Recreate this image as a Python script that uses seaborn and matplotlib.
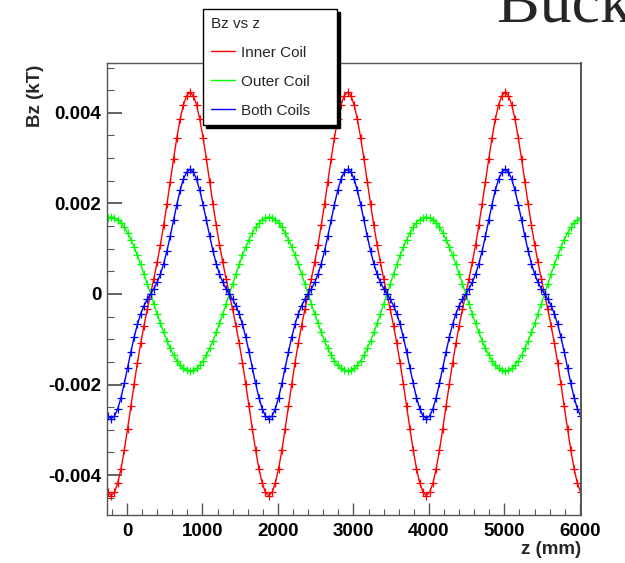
import numpy as np
import pandas as pd
import matplotlib
matplotlib.use("Agg")
import matplotlib.pyplot as plt
import seaborn as sns
from matplotlib.ticker import MultipleLocator, FuncFormatter
from matplotlib.lines import Line2D

# ---------------- data ----------------
Z_FIRST, Z_LAST, N_SAMPLES = -253.5, 6010.5, 145
z_mm = np.linspace(Z_FIRST, Z_LAST, N_SAMPLES)

inner_coil = [
    -0.00438,
    -0.00445, -0.00438, -0.004177, -0.003857, -0.003447, -0.002978, -0.002482, -0.001989, -0.00152, -0.001089, -0.000698, -0.00034, 0.0,
    0.00034, 0.000698, 0.001089, 0.00152, 0.001989, 0.002482, 0.002978, 0.003447, 0.003857, 0.004177, 0.00438, 0.00445,
    0.00438, 0.004177, 0.003857, 0.003447, 0.002978, 0.002482, 0.001989, 0.00152, 0.001089, 0.000698, 0.00034, 0.0,
    -0.00034, -0.000698, -0.001089, -0.00152, -0.001989, -0.002482, -0.002978, -0.003447, -0.003857, -0.004177, -0.00438, -0.00445,
    -0.00438, -0.004177, -0.003857, -0.003447, -0.002978, -0.002482, -0.001989, -0.00152, -0.001089, -0.000698, -0.00034, 0.0,
    0.00034, 0.000698, 0.001089, 0.00152, 0.001989, 0.002482, 0.002978, 0.003447, 0.003857, 0.004177, 0.00438, 0.00445,
    0.00438, 0.004177, 0.003857, 0.003447, 0.002978, 0.002482, 0.001989, 0.00152, 0.001089, 0.000698, 0.00034, 0.0,
    -0.00034, -0.000698, -0.001089, -0.00152, -0.001989, -0.002482, -0.002978, -0.003447, -0.003857, -0.004177, -0.00438, -0.00445,
    -0.00438, -0.004177, -0.003857, -0.003447, -0.002978, -0.002482, -0.001989, -0.00152, -0.001089, -0.000698, -0.00034, 0.0,
    0.00034, 0.000698, 0.001089, 0.00152, 0.001989, 0.002482, 0.002978, 0.003447, 0.003857, 0.004177, 0.00438, 0.00445,
    0.00438, 0.004177, 0.003857, 0.003447, 0.002978, 0.002482, 0.001989, 0.00152, 0.001089, 0.000698, 0.00034, 0.0,
    -0.00034, -0.000698, -0.001089, -0.00152, -0.001989, -0.002482, -0.002978, -0.003447, -0.003857, -0.004177, -0.00438,
]

outer_coil = [
    0.001685,
    0.0017, 0.001685, 0.001642, 0.001571, 0.001472, 0.001349, 0.001202, 0.001035, 0.00085, 0.000651, 0.00044, 0.000222, 0.0,
    -0.000222, -0.00044, -0.000651, -0.00085, -0.001035, -0.001202, -0.001349, -0.001472, -0.001571, -0.001642, -0.001685, -0.0017,
    -0.001685, -0.001642, -0.001571, -0.001472, -0.001349, -0.001202, -0.001035, -0.00085, -0.000651, -0.00044, -0.000222, 0.0,
    0.000222, 0.00044, 0.000651, 0.00085, 0.001035, 0.001202, 0.001349, 0.001472, 0.001571, 0.001642, 0.001685, 0.0017,
    0.001685, 0.001642, 0.001571, 0.001472, 0.001349, 0.001202, 0.001035, 0.00085, 0.000651, 0.00044, 0.000222, 0.0,
    -0.000222, -0.00044, -0.000651, -0.00085, -0.001035, -0.001202, -0.001349, -0.001472, -0.001571, -0.001642, -0.001685, -0.0017,
    -0.001685, -0.001642, -0.001571, -0.001472, -0.001349, -0.001202, -0.001035, -0.00085, -0.000651, -0.00044, -0.000222, 0.0,
    0.000222, 0.00044, 0.000651, 0.00085, 0.001035, 0.001202, 0.001349, 0.001472, 0.001571, 0.001642, 0.001685, 0.0017,
    0.001685, 0.001642, 0.001571, 0.001472, 0.001349, 0.001202, 0.001035, 0.00085, 0.000651, 0.00044, 0.000222, 0.0,
    -0.000222, -0.00044, -0.000651, -0.00085, -0.001035, -0.001202, -0.001349, -0.001472, -0.001571, -0.001642, -0.001685, -0.0017,
    -0.001685, -0.001642, -0.001571, -0.001472, -0.001349, -0.001202, -0.001035, -0.00085, -0.000651, -0.00044, -0.000222, 0.0,
    0.000222, 0.00044, 0.000651, 0.00085, 0.001035, 0.001202, 0.001349, 0.001472, 0.001571, 0.001642, 0.001685,
]

both_coils = [
    -0.002695,
    -0.00275, -0.002695, -0.002535, -0.002286, -0.001975, -0.001629, -0.00128, -0.000954, -0.00067, -0.000438, -0.000258, -0.000118, 0.0,
    0.000118, 0.000258, 0.000438, 0.00067, 0.000954, 0.00128, 0.001629, 0.001975, 0.002286, 0.002535, 0.002695, 0.00275,
    0.002695, 0.002535, 0.002286, 0.001975, 0.001629, 0.00128, 0.000954, 0.00067, 0.000438, 0.000258, 0.000118, 0.0,
    -0.000118, -0.000258, -0.000438, -0.00067, -0.000954, -0.00128, -0.001629, -0.001975, -0.002286, -0.002535, -0.002695, -0.00275,
    -0.002695, -0.002535, -0.002286, -0.001975, -0.001629, -0.00128, -0.000954, -0.00067, -0.000438, -0.000258, -0.000118, 0.0,
    0.000118, 0.000258, 0.000438, 0.00067, 0.000954, 0.00128, 0.001629, 0.001975, 0.002286, 0.002535, 0.002695, 0.00275,
    0.002695, 0.002535, 0.002286, 0.001975, 0.001629, 0.00128, 0.000954, 0.00067, 0.000438, 0.000258, 0.000118, 0.0,
    -0.000118, -0.000258, -0.000438, -0.00067, -0.000954, -0.00128, -0.001629, -0.001975, -0.002286, -0.002535, -0.002695, -0.00275,
    -0.002695, -0.002535, -0.002286, -0.001975, -0.001629, -0.00128, -0.000954, -0.00067, -0.000438, -0.000258, -0.000118, 0.0,
    0.000118, 0.000258, 0.000438, 0.00067, 0.000954, 0.00128, 0.001629, 0.001975, 0.002286, 0.002535, 0.002695, 0.00275,
    0.002695, 0.002535, 0.002286, 0.001975, 0.001629, 0.00128, 0.000954, 0.00067, 0.000438, 0.000258, 0.000118, 0.0,
    -0.000118, -0.000258, -0.000438, -0.00067, -0.000954, -0.00128, -0.001629, -0.001975, -0.002286, -0.002535, -0.002695,
]

series_names = ["Inner Coil", "Outer Coil", "Both Coils"]
series_colors = ["#ff0000", "#00ff00", "#0000ff"]
x_ticks = [0, 1000, 2000, 3000, 4000, 5000, 6000]
y_ticks = [-0.004, -0.002, 0, 0.002, 0.004]

assert len(inner_coil) == len(outer_coil) == len(both_coils) == N_SAMPLES

df = pd.DataFrame({
    "z": np.concatenate([z_mm, z_mm, z_mm]),
    "Bz": np.concatenate([inner_coil, outer_coil, both_coils]),
    "coil": np.repeat(series_names, N_SAMPLES),
})

# ---------------- figure ----------------
sns.set_theme(style="white")
plt.rcParams["font.family"] = ["Liberation Sans", "DejaVu Sans"]
plt.rcParams["axes.unicode_minus"] = False

W, H = 625, 563
fig = plt.figure(figsize=(W / 100, H / 100), dpi=100)
fig.patch.set_facecolor("white")
ax = fig.add_axes([107 / W, 1 - 515 / H, 474 / W, 452 / H])

for name, col in zip(series_names, series_colors):
    sns.lineplot(data=df[df["coil"] == name], x="z", y="Bz", color=col,
                 marker="+", markersize=6, markeredgewidth=0.9,
                 markeredgecolor=col, linewidth=1.0, ax=ax,
                 estimator=None, sort=False, legend=False)

ax.set_xlim(-265, 6015)
ax.set_ylim(-0.00488, 0.00510)
ax.set_xlabel("")
ax.set_ylabel("")

ax.set_xticks(x_ticks)
ax.set_yticks(y_ticks)
ax.xaxis.set_minor_locator(MultipleLocator(200))
ax.yaxis.set_minor_locator(MultipleLocator(0.0005))
ax.xaxis.set_major_formatter(FuncFormatter(lambda v, p: f"{v:g}"))
ax.yaxis.set_major_formatter(FuncFormatter(lambda v, p: f"{round(v, 6):g}"))

ax.tick_params(axis="both", which="both", direction="in", top=False, right=False,
               bottom=True, left=True, colors="#555555", labelcolor="black")
ax.tick_params(axis="x", which="major", length=8.5, width=1.0, pad=6)
ax.tick_params(axis="x", which="minor", length=4.3, width=0.8)
ax.tick_params(axis="y", which="major", length=11, width=1.3, pad=4)
ax.tick_params(axis="y", which="minor", length=5, width=0.8)
for lbl in ax.get_xticklabels() + ax.get_yticklabels():
    lbl.set_fontweight("bold")
    lbl.set_fontsize(13.5)

for side, sp in ax.spines.items():
    sp.set_visible(True)
    sp.set_color("#555555")
    sp.set_linewidth(1.0)
ax.spines["right"].set_linewidth(1.4)

fig.text(35 / W, 1 - 65 / H, "Bz (kT)", rotation=90, ha="center", va="top",
         fontsize=13.5, fontweight="bold")
fig.text(581 / W, 1 - 549 / H, "z (mm)", ha="right", va="center",
         fontsize=13.5, fontweight="bold")

fig.text(497 / W, 1 - 22 / H, "Bucking Coil Field", ha="left", va="baseline",
         fontsize=46, family=["Liberation Serif", "DejaVu Serif"])

handles = [Line2D([], [], color=c, linewidth=1.0) for c in series_colors]
leg = fig.legend(handles, series_names, title="Bz vs z",
                 loc="upper left",
                 bbox_to_anchor=(203 / W, 1 - 9 / H, 134 / W, 0.0),
                 bbox_transform=fig.transFigure, mode="expand",
                 borderaxespad=0.0, fontsize=11, title_fontsize=11,
                 handlelength=1.6, handletextpad=0.4, labelspacing=0.98,
                 borderpad=0.5, fancybox=False, framealpha=1.0,
                 edgecolor="black", alignment="left",
                 shadow={"color": "black", "alpha": 1.0})
leg.get_frame().set_linewidth(1.0)

fig.savefig("out.png", dpi=100, facecolor="white")
